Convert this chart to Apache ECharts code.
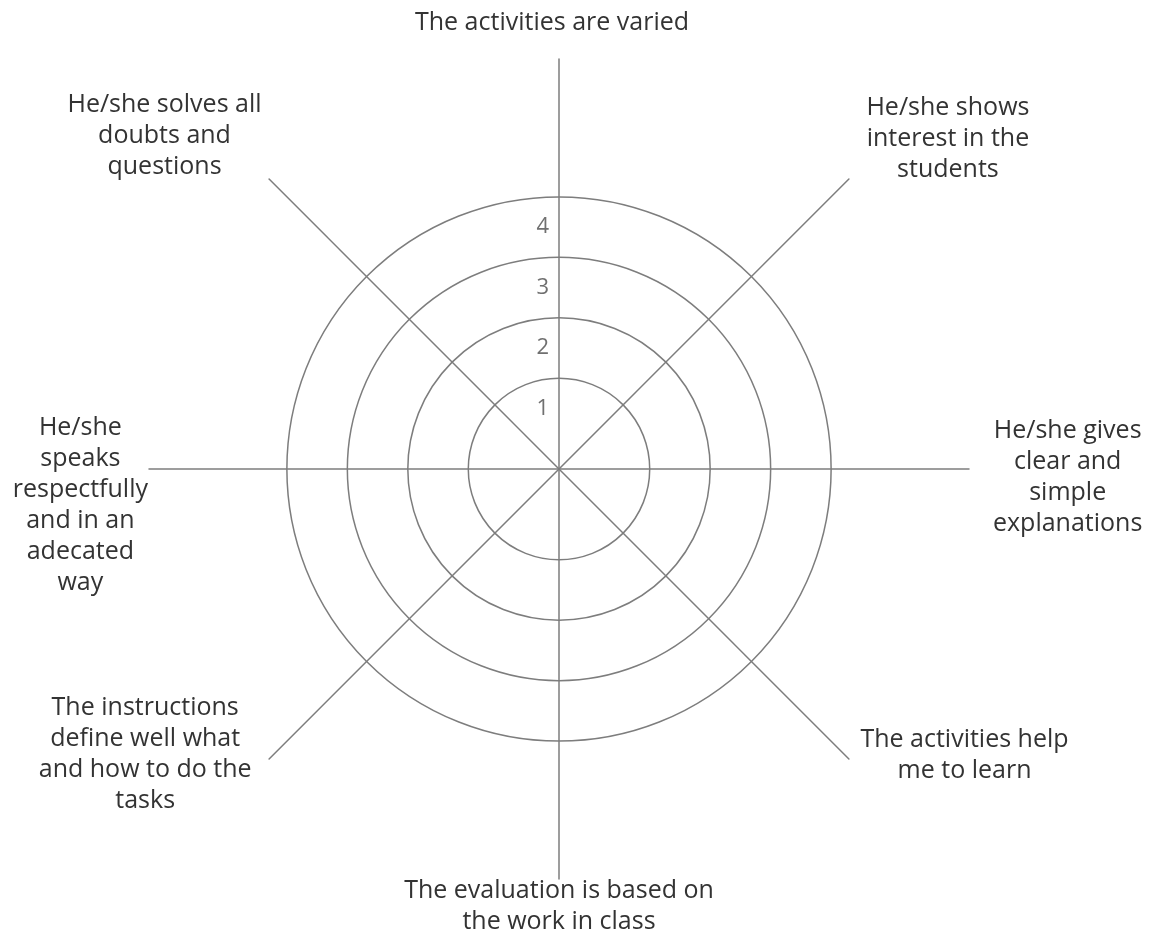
<!DOCTYPE html>
<html>
<head>
<meta charset="utf-8">
<script src="https://cdn.jsdelivr.net/npm/echarts@6/dist/echarts.min.js"></script>
<style>
  html, body { margin: 0; padding: 0; background: #fff; }
  #chart { width: 1157px; height: 935px; }
</style>
</head>
<body>
<div id="chart"></div>
<script>
// indicators, counterclockwise from the top (radar order)
const categories = [
  'The activities are varied',
  'He/she solves all\ndoubts and\nquestions',
  'He/she\nspeaks\nrespectfully\nand in an\nadecated\nway',
  'The instructions\ndefine well what\nand how to do the\ntasks',
  'The evaluation is based on\nthe work in class',
  'The activities help\nme to learn',
  'He/she gives\nclear and\nsimple\nexplanations',
  'He/she shows\ninterest in the\nstudents'
];
const ringValues = [1, 2, 3, 4];
const tickLabels = ['1', '2', '3', '4'];

// nudges for each name block [top, right, bottom, left]
const namePad = [
  [0, 14, 33, 0],
  [0, 16, 104, 0],
  [72, 13, 0, 0],
  [8, 26, 0, 0],
  [8, 0, 0, 0],
  [10, 0, 0, 20],
  [16, 0, 0, 36],
  [0, 0, 98, 26]
];

const lineColor = '#7d7d7d';
const base = { fontSize: 25, lineHeight: 31, color: '#333', fontFamily: 'Open Sans', align: 'center' };
const rich = {};
categories.forEach((c, i) => {
  const p = namePad[i];
  rich['t' + i] = Object.assign({}, base, { padding: [0, p[1], 0, p[3]] });
  rich['a' + i] = { fontSize: 1, lineHeight: p[0] };
  rich['b' + i] = { fontSize: 1, lineHeight: p[2] };
});

const chart = echarts.init(document.getElementById('chart'));
const option = {
  backgroundColor: '#fff',
  radar: {
    center: [559, 469],
    radius: 410,
    startAngle: 90,
    nameGap: -12,
    indicator: categories.map(c => ({ name: c, min: 0, max: 4 })),
    splitLine: { show: false },
    splitArea: { show: false },
    axisTick: { show: false },
    axisLabel: { show: false },
    axisLine: { lineStyle: { color: lineColor, width: 1.5 } },
    axisName: {
      rich: rich,
      formatter: (name) => {
        const i = categories.indexOf(name);
        const p = namePad[i];
        const lines = name.split('\n').map(t => '{t' + i + '|' + t + '}');
        if (p[0] > 0) lines.unshift('{a' + i + '| }');
        if (p[2] > 0) lines.push('{b' + i + '| }');
        return lines.join('\n');
      }
    }
  },
  polar: {
    center: [559, 469],
    radius: 410
  },
  angleAxis: {
    type: 'value',
    min: 0,
    max: 360,
    show: false
  },
  radiusAxis: {
    type: 'value',
    min: -0.5,
    max: 6.28,
    axisLine: { show: false },
    axisTick: { show: false, customValues: ringValues },
    splitLine: { show: true, lineStyle: { color: lineColor, width: 1.5 } },
    axisLabel: {
      customValues: ringValues,
      formatter: (v) => tickLabels[ringValues.indexOf(v)],
      fontSize: 22,
      fontFamily: 'Open Sans',
      color: '#707070',
      margin: 10,
      align: 'right',
      verticalAlign: 'top',
      padding: [19, 0, 0, 0]
    }
  }
};
chart.setOption(option);
</script>
</body>
</html>
